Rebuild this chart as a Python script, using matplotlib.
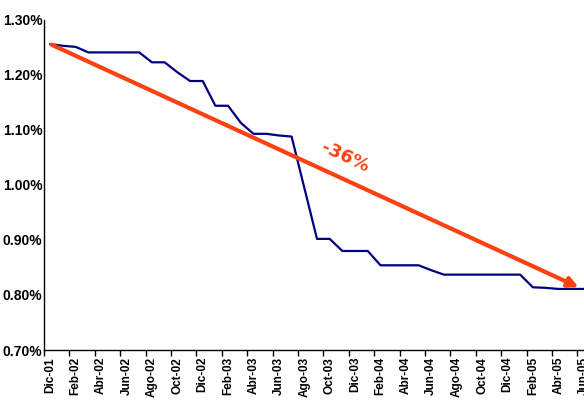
import numpy as np
import matplotlib
matplotlib.use('Agg')
import matplotlib.pyplot as plt
from matplotlib.ticker import FuncFormatter

# monthly rate, Dic-01 .. Jun-05 (43 months)
rate = [1.256, 1.253, 1.251, 1.241, 1.241, 1.241, 1.241, 1.241, 1.223, 1.223,
        1.205, 1.189, 1.189, 1.144, 1.144, 1.113, 1.093, 1.093, 1.090, 1.088,
        0.995, 0.902, 0.902, 0.880, 0.880, 0.880, 0.854, 0.854, 0.854, 0.854,
        0.845, 0.837, 0.837, 0.837, 0.837, 0.837, 0.837, 0.837, 0.814, 0.813,
        0.811, 0.811, 0.811]

# every second month is labelled
tick_labels = ['Dic-01', 'Feb-02', 'Abr-02', 'Jun-02', 'Ago-02', 'Oct-02',
               'Dic-02', 'Feb-03', 'Abr-03', 'Jun-03', 'Ago-03', 'Oct-03',
               'Dic-03', 'Feb-04', 'Abr-04', 'Jun-04', 'Ago-04', 'Oct-04',
               'Dic-04', 'Feb-05', 'Abr-05', 'Jun-05']

trend_start = (0.1, 1.255)
trend_end = (41.6, 0.814)
trend_text = '-36%'

x = np.arange(len(rate))

fig = plt.figure(figsize=(5.84, 4.03), dpi=100)
ax = fig.add_axes([0.0753, 0.1315, 0.935, 0.819])

ax.plot(x, rate, color='#000080', lw=1.6, zorder=2)

ax.annotate('', xy=trend_end, xytext=trend_start,
            arrowprops=dict(arrowstyle='-|>,head_length=0.6,head_width=0.3',
                            color='#FF4010', lw=3.0, shrinkA=0, shrinkB=0),
            zorder=3)
ax.text(23.2, 1.051, trend_text, color='#FF4010', fontsize=13, fontweight='bold',
        rotation=-25, ha='center', va='center', rotation_mode='anchor')

ax.set_xlim(-0.5, len(rate) - 0.5)
ax.set_ylim(0.70, 1.30)
ax.set_yticks(np.arange(0.70, 1.301, 0.10))
ax.yaxis.set_major_formatter(FuncFormatter(lambda v, p: '%.2f%%' % v))
ax.tick_params(axis='y', length=0, pad=1)
for lab in ax.get_yticklabels():
    lab.set_family(['Liberation Sans Narrow', 'Liberation Sans', 'DejaVu Sans'])
    lab.set_fontweight('bold')
    lab.set_fontsize(10)

# tick marks between categories, labels centred on months
ax.set_xticks(np.arange(-0.5, len(rate), 2))
ax.set_xticklabels([])
ax.set_xticks(np.arange(0, len(rate), 2), minor=True)
ax.set_xticklabels(tick_labels, minor=True, rotation=90, fontsize=8.5,
                   fontweight='bold', family=['Liberation Sans', 'DejaVu Sans'])
ax.tick_params(axis='x', which='major', length=4, width=1, direction='out')
ax.tick_params(axis='x', which='minor', length=0, pad=5)

for s in ['top', 'right']:
    ax.spines[s].set_visible(False)
ax.spines['left'].set_linewidth(1)
ax.spines['bottom'].set_linewidth(1)

fig.savefig('out.png', dpi=100)
